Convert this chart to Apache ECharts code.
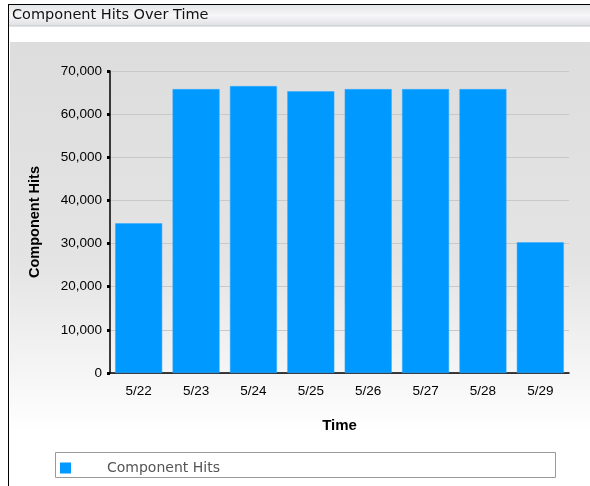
<!DOCTYPE html>
<html>
<head>
<meta charset="utf-8">
<script src="https://cdn.jsdelivr.net/npm/echarts@6/dist/echarts.min.js"></script>
<style>
html,body{margin:0;padding:0;background:#fff;}
#main{width:590px;height:486px;}
</style>
</head>
<body>
<div id="main"></div>
<script>
// data
var days = ['5/22', '5/23', '5/24', '5/25', '5/26', '5/27', '5/28', '5/29'];
var hits = [34700, 65800, 66500, 65300, 65800, 65800, 65800, 30300];
var seriesName = 'Component Hits';

var myChart = echarts.init(document.getElementById('main'));

var option = {
    animation: false,
    graphic: [
        // panel background, grey fading to white
        {type: 'rect', silent: true, z: -10, shape: {x: 10, y: 42, width: 580, height: 444},
            style: {fill: new echarts.graphic.LinearGradient(0, 0, 0, 1, [
                {offset: 0, color: '#dddddd'},
                {offset: 0.5, color: '#e4e4e4'},
                {offset: 0.88, color: '#ffffff'},
                {offset: 1, color: '#ffffff'}
            ])}},
        // title bar
        {type: 'rect', silent: true, z: -10, shape: {x: 9, y: 5, width: 581, height: 21},
            style: {fill: new echarts.graphic.LinearGradient(0, 0, 0, 1, [
                {offset: 0, color: '#e4e5e8'},
                {offset: 0.5, color: '#f6f6f8'},
                {offset: 1, color: '#dfe0e3'}
            ])}},
        {type: 'line', silent: true, shape: {x1: 9, y1: 26, x2: 590, y2: 26}, style: {stroke: '#c4c6cc', lineWidth: 1}},
        {type: 'line', silent: true, shape: {x1: 8, y1: 4.5, x2: 590, y2: 4.5}, style: {stroke: '#000', lineWidth: 1}},
        {type: 'line', silent: true, shape: {x1: 8.5, y1: 4, x2: 8.5, y2: 486}, style: {stroke: '#000', lineWidth: 1}},
        {type: 'text', silent: true, left: 12, top: 8,
            style: {text: 'Component Hits Over Time', fill: '#111', font: '14.5px "DejaVu Sans"'}},
        // legend box
        {type: 'rect', silent: true, z: -5, shape: {x: 55.5, y: 452.5, width: 500, height: 25},
            style: {fill: '#ffffff', stroke: '#9a9a9a', lineWidth: 1}}
    ],
    legend: {
        left: 55, top: 461, padding: [0, 0, 0, 5],
        icon: 'rect', itemWidth: 11, itemHeight: 11,
        selectedMode: false,
        itemStyle: {borderWidth: 0},
        textStyle: {color: '#555', fontFamily: 'DejaVu Sans', fontSize: 14, padding: [0, 0, 0, 31]},
        data: [seriesName]
    },
    grid: {left: 110, right: 21, top: 71, bottom: 113},
    xAxis: {
        type: 'category',
        data: days,
        name: 'Time',
        nameLocation: 'middle',
        nameGap: 45,
        nameTextStyle: {fontFamily: 'Liberation Sans', fontWeight: 'bold', fontSize: 15, color: '#000'},
        axisLine: {lineStyle: {color: '#000', width: 1.5}},
        axisTick: {alignWithLabel: true, length: 2, lineStyle: {color: '#000', width: 2}},
        axisLabel: {fontFamily: 'Liberation Sans', fontSize: 13.5, color: '#000', margin: 11}
    },
    yAxis: {
        type: 'value',
        min: 0, max: 70000, interval: 10000,
        name: 'Component Hits',
        nameLocation: 'middle',
        nameGap: 68,
        nameTextStyle: {fontFamily: 'Liberation Sans', fontWeight: 'bold', fontSize: 14.5, color: '#000'},
        axisLine: {show: true, lineStyle: {color: '#000', width: 1.5}},
        axisTick: {show: true, length: 3, lineStyle: {color: '#000', width: 3}},
        axisLabel: {fontFamily: 'Liberation Sans', fontSize: 13.5, color: '#000', margin: 8,
            formatter: function (v) { return v.toLocaleString('en-US'); }},
        splitLine: {lineStyle: {color: '#c9c9c9', width: 1}}
    },
    series: [{
        name: seriesName,
        type: 'bar',
        data: hits,
        barWidth: 47,
        itemStyle: {color: '#0099ff', borderColor: '#33aaff', borderWidth: 0.5}
    }]
};

myChart.setOption(option);
</script>
</body>
</html>
